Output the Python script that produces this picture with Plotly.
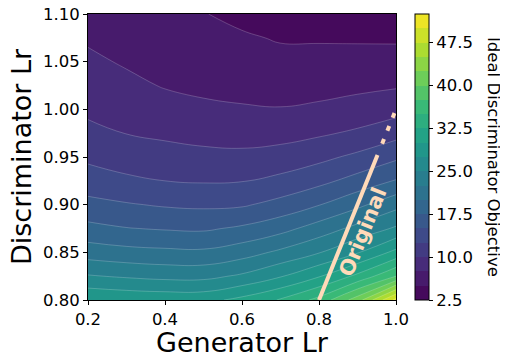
import numpy as np
import plotly.graph_objects as go
from plotly.colors import sample_colorscale

# ---- data ----
gen_lr = [0.2, 0.3, 0.4, 0.5, 0.6, 0.7, 0.8, 0.9, 1.0]
disc_lr = [0.80, 0.825, 0.85, 0.875, 0.90, 0.925, 0.95, 0.975, 1.00, 1.025, 1.05, 1.075, 1.10]

# objective values, one list per generator lr (bottom -> top in discriminator lr)
obj_g02 = [29.8, 25.2, 21.3, 18.2, 15.7, 13.7, 12.0, 10.6, 9.55, 8.75, 7.95, 7.2, 6.5]
obj_g03 = [29.4, 24.7, 20.8, 17.6, 15.2, 12.95, 11.35, 9.95, 9.0, 8.05, 7.25, 6.7, 6.2]
obj_g04 = [29.2, 24.3, 20.55, 17.3, 14.75, 12.5, 10.95, 9.55, 8.4, 7.35, 6.8, 6.25, 5.7]
obj_g05 = [29.2, 24.3, 20.45, 17.15, 14.55, 12.3, 10.65, 9.2, 7.9, 7.05, 6.4, 5.75, 5.1]
obj_g06 = [30.7, 25.4, 21.4, 17.9, 14.7, 12.4, 10.55, 9.05, 7.7, 6.85, 6.05, 5.3, 4.35]
obj_g07 = [32.7, 27.3, 23.0, 19.15, 15.8, 13.15, 10.95, 9.15, 7.6, 6.65, 5.7, 4.8, 4.05]
obj_g08 = [35.8, 29.8, 24.85, 21.1, 17.4, 14.3, 11.85, 9.65, 7.9, 6.7, 5.65, 4.8, 3.8]
obj_g09 = [41.3, 33.1, 27.3, 23.25, 19.4, 15.9, 13.05, 10.4, 8.45, 6.95, 5.75, 4.75, 3.7]
obj_g10 = [50.8, 37.5, 30.7, 25.35, 21.7, 17.65, 14.55, 11.65, 9.1, 7.25, 5.85, 4.7, 3.6]

# "Original" setting: discriminator lr == generator lr
orig_solid_x = [0.8, 0.952]
orig_dot_x = [0.964, 1.0]

x_ticks = [0.2, 0.4, 0.6, 0.8, 1.0]
x_ticktext = ["0.2", "0.4", "0.6", "0.8", "1.0"]
y_ticks = [0.80, 0.85, 0.90, 0.95, 1.00, 1.05, 1.10]
y_ticktext = ["0.80", "0.85", "0.90", "0.95", "1.00", "1.05", "1.10"]
cb_ticks = [2.5, 10.0, 17.5, 25.0, 32.5, 40.0, 47.5]
cb_ticktext = ["2.5", "10.0", "17.5", "25.0", "32.5", "40.0", "47.5"]

lvl_start, lvl_end, lvl_size = 2.5, 52.5, 2.5

z = np.array([obj_g02, obj_g03, obj_g04, obj_g05, obj_g06,
              obj_g07, obj_g08, obj_g09, obj_g10]).T

# discrete viridis band colours (matplotlib contourf style: colour at band midpoint)
n_bands = int(round((lvl_end - lvl_start) / lvl_size))
band_cols = sample_colorscale("Viridis", [(k + 0.5) / n_bands for k in range(n_bands)])

# contour fill colorscale: plotly samples each band at (level + size/2) over domain [0, end]
dom_max = lvl_end
cscale_main = [[0.0, band_cols[0]]]
for k, c in enumerate(band_cols):
    lo = (lvl_start + k * lvl_size) / dom_max
    hi = (lvl_start + (k + 1) * lvl_size) / dom_max
    cscale_main.append([lo, c])
    cscale_main.append([hi, c])

# stepped colorscale for the colorbar spanning [start, end]
cscale_bar = []
for k, c in enumerate(band_cols):
    cscale_bar.append([k / n_bands, c])
    cscale_bar.append([(k + 1) / n_bands, c])

FONT = "DejaVu Sans"
PEACH = "#ffdab9"

# figure is drawn inside the page's 8px body margin
W, H = 500, 350
ML, MR, MT, MB = 80, 112, 6, 58
PW, PH = W - ML - MR, H - MT - MB


def px_x(fig_x):
    return (fig_x - ML) / PW


def px_y(fig_y):
    return (MT + PH - fig_y) / PH


fig = go.Figure()
fig.add_trace(go.Contour(
    x=gen_lr, y=disc_lr, z=z,
    colorscale=cscale_main,
    contours=dict(start=lvl_start, end=lvl_end, size=lvl_size, coloring="fill"),
    line=dict(color="rgba(255,255,255,0.4)", width=0.5, smoothing=1.3),
    showscale=False,
    hoverinfo="skip",
))

# helper trace (outside the visible axes range) that only carries the colorbar
fig.add_trace(go.Heatmap(
    x=[5.0, 6.0], y=[5.0, 6.0], z=[[lvl_start, lvl_end], [lvl_start, lvl_end]],
    zmin=lvl_start, zmax=lvl_end, colorscale=cscale_bar,
    colorbar=dict(
        x=px_x(407), xanchor="left", xpad=0,
        y=0.5, yanchor="middle", len=1, lenmode="fraction", ypad=0,
        thickness=14, outlinewidth=1, outlinecolor="black",
        ticks="outside", ticklen=4, tickwidth=1, tickcolor="black",
        tickvals=cb_ticks, ticktext=cb_ticktext,
        tickfont=dict(family=FONT, size=16.5, color="black"),
    ),
    hoverinfo="skip",
))

fig.add_trace(go.Scatter(
    x=orig_solid_x, y=orig_solid_x, mode="lines",
    line=dict(color=PEACH, width=4), showlegend=False, hoverinfo="skip"))
fig.add_trace(go.Scatter(
    x=orig_dot_x, y=orig_dot_x, mode="lines",
    line=dict(color=PEACH, width=4, dash="5px,9px"), showlegend=False, hoverinfo="skip"))

fig.add_annotation(x=0.914, y=0.8713, text="<b>Original</b>", showarrow=False,
                   textangle=-68, font=dict(family=FONT, size=21, color=PEACH))

fig.add_annotation(xref="paper", yref="paper", x=px_x(486), y=0.5,
                   text="Ideal Discriminator Objective", showarrow=False, textangle=90,
                   xanchor="center", yanchor="middle",
                   font=dict(family=FONT, size=16.5, color="black"))

fig.add_annotation(xref="paper", yref="paper", x=0.5, y=px_y(334),
                   text="Generator Lr", showarrow=False,
                   xanchor="center", yanchor="middle",
                   font=dict(family=FONT, size=27, color="black"))

fig.add_annotation(xref="paper", yref="paper", x=px_x(13), y=0.5,
                   text="Discriminator Lr", showarrow=False, textangle=-90,
                   xanchor="center", yanchor="middle",
                   font=dict(family=FONT, size=27, color="black"))

axis_common = dict(showline=True, mirror=True, linecolor="black", linewidth=1,
                   ticks="outside", ticklen=4, tickwidth=1, tickcolor="black",
                   showgrid=False, zeroline=False, automargin=False,
                   ticklabeloverflow="allow",
                   tickfont=dict(family=FONT, size=16.5, color="black"))

fig.update_xaxes(range=[0.2, 1.0], tickvals=x_ticks, ticktext=x_ticktext, **axis_common)
fig.update_yaxes(range=[0.8, 1.1], tickvals=y_ticks, ticktext=y_ticktext, **axis_common)

fig.update_layout(
    width=W, height=H,
    margin=dict(l=ML, r=MR, t=MT, b=MB, autoexpand=False),
    paper_bgcolor="white", plot_bgcolor="white",
    showlegend=False,
    font=dict(family=FONT),
)

fig.write_html("out.html")
